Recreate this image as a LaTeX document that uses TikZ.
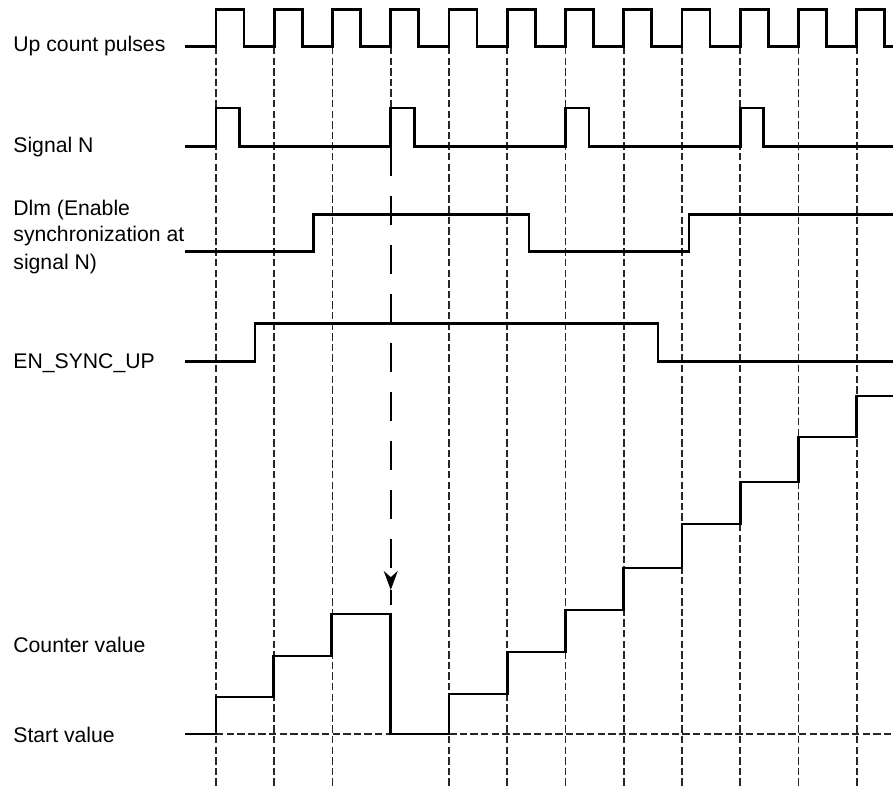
\documentclass[tikz,border=0pt]{standalone}
\usepackage{fontspec}
\setmainfont{Liberation Sans}
\usetikzlibrary{arrows.meta}

\tikzset{
  sig/.style={line width=1.35pt, line join=miter},
  guide/.style={line width=0.85pt, black!85, dash pattern=on 3.7pt off 1.6pt},
  lbl/.style={anchor=base west, inner sep=0pt, font=\fontsize{10.6}{13}\selectfont},
  syncarrow/.style={line width=0.85pt, dash pattern=on 14.5pt off 10pt, -{Stealth[length=9.5pt,width=7pt]}},
}

\begin{document}
\begin{tikzpicture}[x=0.5pt, y=-0.5pt]
        \useasboundingbox (0,0) rectangle (893,786);

        \foreach \i in {0,1,2,4,5,6,7,8,9,10,11}
            \draw[guide] ({216+58.25*\i},47) -- ({216+58.25*\i},786);
        \draw[guide] (390.75,47) -- (390.75,108);
        \draw[guide] (216,734) -- (893,734);

        \node[lbl] (pulses) at (13,52) {Up count pulses};
        \node[lbl] (sigN) at (13,153) {Signal N};
        \node[lbl] (dlmA) at (13,215) {Dlm (Enable};
        \node[lbl] (dlmB) at (13,242) {synchronization at};
        \node[lbl] (dlmC) at (13,269) {signal N)};
        \node[lbl] (ensync) at (13,368) {EN\_SYNC\_UP};
        \node[lbl] (counter) at (13,652) {Counter value};
        \node[lbl] (start) at (13,742) {Start value};

        \draw[sig] (185,46.7) \foreach \i in {0,...,11} {-- ({216+58.25*\i},46.7) -- ++(0,-37.4) -- ++(28,0) -- ++(0,37.4)} -- (893,46.7);
        \draw[sig] (185,146.7) \foreach \i in {0,3,6,9} {-- ({216+58.25*\i},146.7) -- ++(0,-38.7) -- ++(23.5,0) -- ++(0,38.7)} -- (893,146.7);
        \draw[sig] (185,251.7) -| (313.3,214.3) -| (529,251.7) -| (689,214.3) -- (893,214.3);
        \draw[sig] (185,361.7) -| (255,323.3) -| (658,361.7) -- (893,361.7);
        \draw[sig] (185,734) -| (216,697) -| (273.25,656) -| (331.5,614) -| (390.75,734)
            -| (449,694) -| (507.25,652) -| (565.5,610) -| (623.75,568) -| (682,524)
            -| (740.25,482) -| (798.5,437) -| (856.75,396) -- (893,396);

        \coordinate (sync) at (390.75,146.7);
        \coordinate (load) at (390.75,590);
        \draw[syncarrow] (sync) -- (load);
        \draw[line width=0.85pt] (load) -- ++(0,15);
    \end{tikzpicture}
\end{document}
